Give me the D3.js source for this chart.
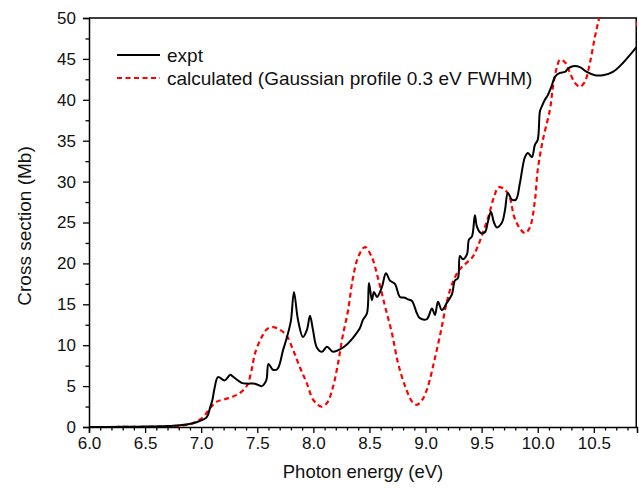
<!DOCTYPE html>
<html>
<head>
<meta charset="utf-8">
<script src="https://cdn.jsdelivr.net/npm/d3@7"></script>
<style>
  body { margin: 0; background: #fff; }
  svg { display: block; font-family: "Liberation Sans", Arial, sans-serif; }
</style>
</head>
<body>
<div id="plot"></div>
<script>
// experimental cross section (eV, Mb)
const expt_x = [6.0, 6.3, 6.5, 6.7, 6.81, 6.93, 7.0, 7.05, 7.08, 7.10, 7.12, 7.15, 7.21, 7.26, 7.28, 7.36, 7.41, 7.48, 7.54, 7.58, 7.60, 7.64, 7.68, 7.73, 7.765, 7.80, 7.827, 7.863, 7.907, 7.943, 7.97, 7.996, 8.032, 8.077, 8.121, 8.175, 8.237, 8.299, 8.353, 8.415, 8.442, 8.478, 8.496, 8.522, 8.54, 8.567, 8.611, 8.647, 8.683, 8.727, 8.772, 8.816, 8.843, 8.879, 8.923, 8.95, 9.012, 9.057, 9.084, 9.111, 9.146, 9.191, 9.235, 9.262, 9.289, 9.307, 9.333, 9.369, 9.387, 9.414, 9.44, 9.458, 9.494, 9.529, 9.556, 9.583, 9.61, 9.636, 9.681, 9.708, 9.734, 9.77, 9.806, 9.841, 9.886, 9.913, 9.948, 9.975, 10.0, 10.02, 10.037, 10.064, 10.091, 10.127, 10.153, 10.198, 10.242, 10.269, 10.314, 10.376, 10.438, 10.51, 10.581, 10.67, 10.759, 10.884];
const expt_y = [0, 0.02, 0.05, 0.12, 0.2, 0.45, 0.8, 1.2, 2.4, 3.3, 4.8, 6.1, 5.7, 6.4, 6.2, 5.4, 5.3, 5.3, 5.0, 5.7, 7.7, 7.0, 7.1, 9.4, 11.0, 13.0, 16.5, 13.1, 11.0, 11.9, 13.6, 11.9, 9.7, 9.2, 9.8, 9.2, 9.5, 10.1, 10.9, 12.1, 13.1, 13.9, 17.6, 15.5, 16.5, 15.9, 17.1, 18.8, 17.9, 17.5, 15.9, 15.8, 15.6, 15.4, 13.9, 13.3, 13.2, 14.5, 13.7, 15.3, 14.3, 15.2, 16.2, 17.9, 18.2, 20.9, 20.5, 21.1, 22.9, 23.3, 25.9, 24.5, 23.7, 23.8, 25.1, 26.3, 25.0, 24.4, 25.0, 26.5, 28.6, 27.8, 27.8, 29.8, 33.0, 33.5, 33.0, 34.5, 35.1, 38.6, 39.2, 40.0, 40.6, 41.8, 42.8, 43.3, 43.4, 43.8, 44.1, 44.0, 43.4, 43.0, 43.0, 43.4, 44.5, 46.5];

// calculated, Gaussian profile 0.3 eV FWHM
const calc_x = [6.0, 6.5, 6.7, 6.81, 6.93, 7.016, 7.078, 7.14, 7.21, 7.28, 7.35, 7.41, 7.45, 7.48, 7.54, 7.59, 7.64, 7.70, 7.76, 7.82, 7.88, 7.94, 8.0, 8.07, 8.12, 8.175, 8.22, 8.26, 8.31, 8.35, 8.40, 8.46, 8.52, 8.58, 8.64, 8.70, 8.755, 8.82, 8.88, 8.92, 8.97, 9.02, 9.08, 9.14, 9.19, 9.24, 9.30, 9.36, 9.42, 9.46, 9.51, 9.56, 9.61, 9.65, 9.70, 9.75, 9.79, 9.84, 9.886, 9.93, 9.975, 10.0, 10.046, 10.109, 10.136, 10.171, 10.198, 10.242, 10.287, 10.33, 10.376, 10.42, 10.465, 10.51, 10.554, 10.62, 10.72, 10.82, 10.884, 10.9];
const calc_y = [0, 0.02, 0.08, 0.15, 0.5, 1.2, 2.3, 3.1, 3.4, 3.7, 4.2, 5.1, 7.0, 9.0, 11.0, 12.0, 12.2, 11.9, 11.2, 9.4, 7.3, 5.4, 3.3, 2.5, 2.9, 4.9, 7.8, 11.0, 14.3, 18.0, 20.8, 22.0, 20.8, 18.0, 14.7, 11.5, 7.8, 4.9, 3.1, 2.7, 3.3, 4.9, 8.2, 11.9, 15.3, 17.6, 19.2, 20.0, 20.8, 21.9, 23.7, 25.7, 28.1, 29.3, 29.1, 28.1, 25.7, 24.3, 23.7, 24.4, 27.7, 31.4, 35.1, 38.8, 41.6, 44.0, 44.9, 44.6, 43.3, 42.1, 41.6, 42.2, 44.5, 47.7, 50.4, 55.0, 58.0, 55.0, 49.4, 47.5];

const x_major = [6.0, 6.5, 7.0, 7.5, 8.0, 8.5, 9.0, 9.5, 10.0, 10.5];
const y_major = [0, 5, 10, 15, 20, 25, 30, 35, 40, 45, 50];

const legend_labels = ["expt", "calculated (Gaussian profile 0.3 eV FWHM)"];

const width = 639;
const height = 492;
const margin = { top: 18, right: 2, bottom: 65, left: 89 };

const scale_x = d3.scaleLinear()
    .domain([6.0, 10.885])
    .range([margin.left, width - margin.right]);
const scale_y = d3.scaleLinear()
    .domain([0, 50])
    .range([height - margin.bottom, margin.top]);

const svg = d3.select("#plot").append("svg")
    .attr("width", width)
    .attr("height", height);

svg.append("clipPath").attr("id", "clip")
    .append("rect")
    .attr("x", margin.left)
    .attr("y", margin.top)
    .attr("width", width - margin.right - margin.left)
    .attr("height", height - margin.bottom - margin.top);

// minor ticks every 0.1 eV and 2.5 Mb
const x_minor = d3.range(60, 109).map(d => d / 10).filter(d => !x_major.includes(d));
const y_minor = d3.range(0, 21).map(d => d * 2.5).filter(d => !y_major.includes(d));

svg.append("g")
    .attr("transform", `translate(0,${height - margin.bottom})`)
    .call(d3.axisBottom(scale_x).tickValues(x_major).tickFormat(d3.format(".1f")).tickSize(6).tickPadding(4));
svg.append("g")
    .attr("transform", `translate(0,${height - margin.bottom})`)
    .call(d3.axisBottom(scale_x).tickValues(x_minor).tickFormat("").tickSize(3.5))
    .select(".domain").remove();

svg.append("g")
    .attr("transform", `translate(${margin.left},0)`)
    .call(d3.axisLeft(scale_y).tickValues(y_major).tickSize(6).tickPadding(7));
svg.append("g")
    .attr("transform", `translate(${margin.left},0)`)
    .call(d3.axisLeft(scale_y).tickValues(y_minor).tickFormat("").tickSize(3.5))
    .select(".domain").remove();

svg.selectAll(".tick line").attr("stroke", "#000").attr("stroke-width", 1.3);
svg.selectAll(".domain").attr("stroke", "#000").attr("stroke-width", 1.5);
svg.selectAll(".tick text")
    .attr("font-size", 17)
    .attr("fill", "#111")
    .attr("font-family", "\"Liberation Sans\", Arial, sans-serif");

// top and right frame
svg.append("path")
    .attr("fill", "none")
    .attr("stroke", "#000")
    .attr("stroke-width", 1.5)
    .attr("d", `M ${margin.left},${margin.top} H ${width - margin.right - 0.75} V ${height - margin.bottom}`);

const line = d3.line()
    .x(d => scale_x(d[0]))
    .y(d => scale_y(d[1]))
    .curve(d3.curveCatmullRom.alpha(0.5));

const plot_g = svg.append("g").attr("clip-path", "url(#clip)");

plot_g.append("path")
    .datum(calc_x.map((x, i) => [x, calc_y[i]]))
    .attr("fill", "none")
    .attr("stroke", "#ff0000")
    .attr("stroke-width", 2.2)
    .attr("stroke-dasharray", "5,3.5")
    .attr("d", line);

plot_g.append("path")
    .datum(expt_x.map((x, i) => [x, expt_y[i]]))
    .attr("fill", "none")
    .attr("stroke", "#000")
    .attr("stroke-width", 2)
    .attr("stroke-linejoin", "round")
    .attr("d", line);

// legend
const legend = svg.append("g").attr("font-size", 19).attr("fill", "#111");
[["#000", null], ["#ff0000", "5,3.5"]].forEach((s, i) => {
    const ly = 55 + i * 23;
    legend.append("line")
        .attr("x1", 117).attr("x2", 160)
        .attr("y1", ly).attr("y2", ly)
        .attr("stroke", s[0])
        .attr("stroke-width", 2)
        .attr("stroke-dasharray", s[1]);
    legend.append("text")
        .attr("x", 167)
        .attr("y", ly)
        .attr("dy", "0.35em")
        .text(legend_labels[i]);
});

// axis titles
svg.append("text")
    .attr("x", (margin.left + width - margin.right) / 2)
    .attr("y", 478)
    .attr("text-anchor", "middle")
    .attr("font-size", 18.5)
    .attr("fill", "#111")
    .text("Photon energy (eV)");

svg.append("text")
    .attr("transform", "translate(31,226) rotate(-90)")
    .attr("text-anchor", "middle")
    .attr("font-size", 19)
    .attr("fill", "#111")
    .text("Cross section (Mb)");
</script>
</body>
</html>
